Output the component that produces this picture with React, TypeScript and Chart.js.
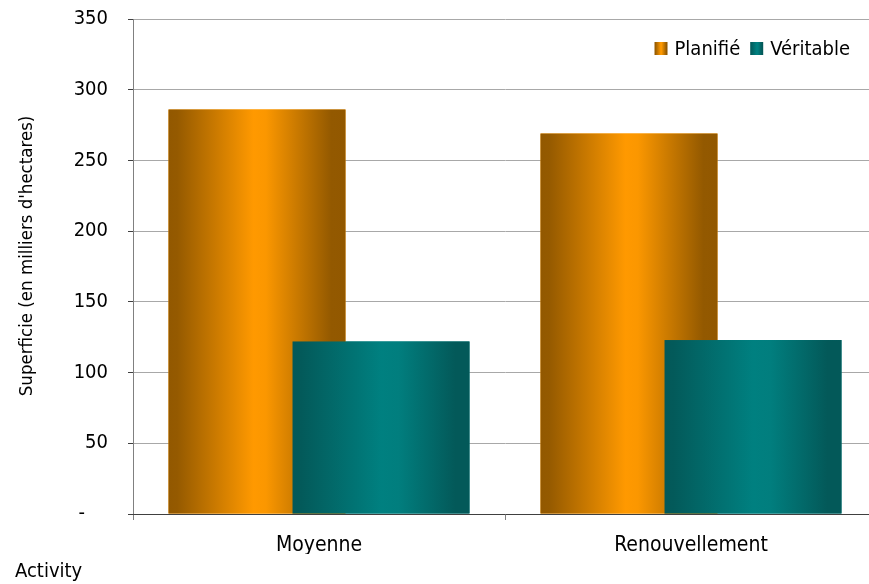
import React, { useEffect, useRef } from "react";
import { Chart, registerables } from "chart.js";

Chart.register(...registerables);

// ---- data ----
const categories = ["Moyenne", "Renouvellement"];
const seriesLabels = ["Planifié", "Véritable"];
const planifie = [286, 269];
const veritable = [122, 123];
const yMin = 0;
const yMax = 350;
const yStep = 50;
const zeroTickLabel = "-\u2007\u2007";
const yTitle = "    Superficie (en milliers d'hectares)";
const xTitle = "Activity";

// ---- styles ----
const FONT = '"DejaVu Sans Condensed", "DejaVu Sans", sans-serif';
const baseColors = ["#FF9900", "#008080"];
const gradientStops: Array<Array<[number, string]>> = [
  [
    [0, "#925800"],
    [0.05, "#955a00"],
    [0.48, "#ff9900"],
    [0.55, "#fb9700"],
    [0.92, "#935900"],
    [1, "#925800"],
  ],
  [
    [0, "#035959"],
    [0.05, "#035a5a"],
    [0.5, "#008080"],
    [0.6, "#017e7e"],
    [0.92, "#035959"],
    [1, "#035959"],
  ],
];

function makeGradient(ctx: CanvasRenderingContext2D, left: number, width: number, i: number) {
  const g = ctx.createLinearGradient(left, 0, left + width, 0);
  gradientStops[i].forEach(([o, c]) => g.addColorStop(o, c));
  return g;
}

const gradientBarsPlugin = {
  id: "gradientBars",
  afterDatasetsDraw(chart: any) {
    const ctx: CanvasRenderingContext2D = chart.ctx;
    ctx.save();
    chart.data.datasets.forEach((_ds: any, i: number) => {
      const meta = chart.getDatasetMeta(i);
      meta.data.forEach((el: any) => {
        const p = el.getProps(["x", "y", "base", "width"], true);
        const left = p.x - p.width / 2;
        const top = Math.min(p.y, p.base);
        const h = Math.abs(p.base - p.y);
        ctx.fillStyle = makeGradient(ctx, left, p.width, i);
        ctx.fillRect(left, top, p.width, h);
      });
    });
    ctx.restore();
  },
};

const legendPlugin = {
  id: "customLegend",
  afterDraw(chart: any) {
    const ctx: CanvasRenderingContext2D = chart.ctx;
    const area = chart.chartArea;
    const right = area.right - 27;
    const boxTop = area.top + 23;
    const box = 13;
    const mid = boxTop + box / 2;
    ctx.save();
    ctx.font = `20px ${FONT}`;
    ctx.textBaseline = "middle";
    ctx.textAlign = "left";
    ctx.fillStyle = "#000";
    const labels = chart.data.datasets.map((d: any) => d.label);
    const widths = labels.map((t: string) => ctx.measureText(t).width);
    const positions: Array<{ bx: number; tx: number }> = [];
    let x = right;
    for (let i = labels.length - 1; i >= 0; i--) {
      const tx = x - widths[i];
      const bx = tx - 7 - box;
      positions[i] = { bx, tx };
      x = bx - 10;
    }
    labels.forEach((t: string, i: number) => {
      const { bx, tx } = positions[i];
      ctx.fillStyle = makeGradient(ctx, bx, box, i);
      ctx.fillRect(bx, boxTop, box, box);
      ctx.fillStyle = "#000";
      ctx.fillText(t, tx, mid + 1);
    });
    ctx.restore();
  },
};

export default function App() {
  const ref = useRef<HTMLCanvasElement | null>(null);

  useEffect(() => {
    if (!ref.current) return;
    const chart = new Chart(ref.current, {
      type: "bar",
      data: {
        labels: categories,
        datasets: [
          {
            label: seriesLabels[0],
            data: planifie,
            backgroundColor: baseColors[0],
            borderWidth: 0,
            categoryPercentage: 0.6667,
            barPercentage: 1.427,
          },
          {
            label: seriesLabels[1],
            data: veritable,
            backgroundColor: baseColors[1],
            borderWidth: 0,
            categoryPercentage: 0.6667,
            barPercentage: 1.427,
          },
        ],
      },
      options: {
        responsive: false,
        animation: false,
        devicePixelRatio: 1,
        events: [],
        layout: { padding: { left: 15, top: 19, right: 3, bottom: 0 } },
        plugins: {
          legend: { display: false },
          tooltip: { enabled: false },
          title: {
            display: true,
            text: xTitle,
            position: "bottom",
            align: "start",
            color: "#000",
            font: { family: FONT, size: 20, weight: "normal" },
            padding: { top: 6, bottom: 0 },
          },
        },
        scales: {
          x: {
            grid: {
              display: true,
              drawOnChartArea: false,
              drawTicks: true,
              tickLength: 6,
              tickColor: "#808080",
              offset: true,
            },
            border: { display: true, color: "#404040", width: 1, z: 1 },
            ticks: {
              color: "#000",
              font: { family: FONT, size: 21 },
              padding: 13,
              maxRotation: 0,
            },
            afterFit: (s: any) => {
              s.height = 40;
            },
          },
          y: {
            min: yMin,
            max: yMax,
            ticks: {
              stepSize: yStep,
              color: "#000",
              font: { family: FONT, size: 20 },
              padding: 20,
              callback: (v: any) => (Number(v) === 0 ? zeroTickLabel : String(v)),
            },
            grid: { color: "#a8a8a8", tickColor: "#404040", tickLength: 5 },
            border: { color: "#808080" },
            title: {
              display: true,
              text: yTitle,
              color: "#000",
              font: { family: FONT, size: 18.5 },
              padding: { top: 1, bottom: 0 },
            },
            afterFit: (s: any) => {
              s.width = 118;
              s.paddingTop = 0;
              s.paddingBottom = 0;
            },
          },
        },
      },
      plugins: [gradientBarsPlugin, legendPlugin],
    } as any);
    return () => chart.destroy();
  }, []);

  return (
    <div
      style={{
        position: "fixed",
        left: 0,
        top: 0,
        width: 869,
        height: 584,
        overflow: "hidden",
        background: "#fff",
      }}
    >
      <canvas ref={ref} width={880} height={584} style={{ display: "block" }} />
    </div>
  );
}
